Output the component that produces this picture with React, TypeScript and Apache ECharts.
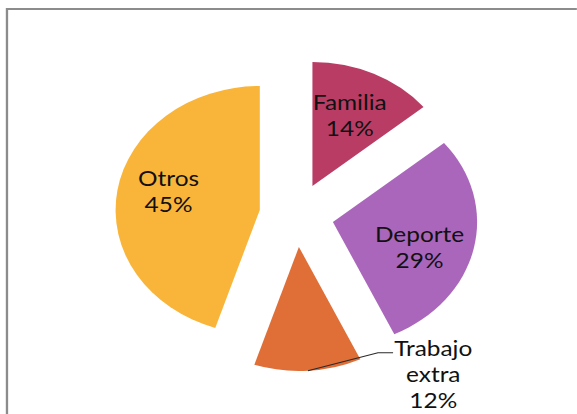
import React, { useEffect, useRef } from 'react';
import * as echarts from 'echarts';

// ---- data ----
const categories = ['Familia', 'Deporte', 'Trabajo extra', 'Otros'];
const values = [14, 29, 12, 45];
const colors = ['#B93C65', '#AA66BB', '#DF6E37', '#F9B53A'];
const outsideLabels = ['Trabajo extra'];

// ---- layout / styling ----
const STRETCH = 1.163; // the reference picture is stretched horizontally
const W = 577;
const H = 414;
const RADIUS = 124;
const labelNudge: Record<string, number[]> = {
  Familia: [-3, 4],
  Deporte: [-6, 7],
  Otros: [3, -6],
};
const leaderRise = 21; // leader line meets the first text line
const leaderTail = 12;
const CLEAR = 'rgba(0,0,0,0)';

export default function App() {
  const ref = useRef<HTMLDivElement>(null);

  useEffect(() => {
    const chart = echarts.init(ref.current!, null, { renderer: 'svg' });
    const textStyle = {
      fontFamily: 'Lato',
      fontSize: 21,
      lineHeight: 26,
      color: '#111111',
    };
    const baseData = categories.map((name, i) => ({
      name,
      value: values[i],
      selected: true,
      itemStyle: { color: colors[i] },
    }));
    const clearData = baseData.map((d) => ({ ...d, itemStyle: { color: CLEAR } }));

    const center = [255, 215];
    const common = {
      type: 'pie',
      center,
      startAngle: 90,
      clockwise: true,
      selectedMode: 'multiple',
      selectedOffset: 32,
      avoidLabelOverlap: false,
      silent: true,
      emphasis: { disabled: true },
    };

    chart.setOption({
      animation: false,
      graphic: [
        {
          type: 'rect',
          silent: true,
          shape: { x: 6, y: 9, width: 800, height: 700 },
          style: { fill: 'none', stroke: '#8c8c8c', lineWidth: 2 },
        },
      ],
      series: [
        // visible slices
        {
          ...common,
          radius: RADIUS,
          itemStyle: { borderWidth: 0 },
          select: { itemStyle: { borderWidth: 0 } },
          label: { show: false },
          labelLine: { show: false },
          data: baseData,
        },
        // outside label with leader line, drawn above the slices
        {
          ...common,
          radius: RADIUS,
          z: 5,
          itemStyle: { color: CLEAR, borderWidth: 0 },
          select: { itemStyle: { color: CLEAR, borderWidth: 0 } },
          label: {
            show: false,
            position: 'outside',
            distanceToLabelLine: 2,
            ...textStyle,
          },
          labelLine: {
            show: false,
            length: 3,
            length2: 72,
            smooth: false,
            lineStyle: { color: '#2a2a2a', width: 1 },
          },
          labelLayout: (params: any) => {
            const pts = params.labelLinePoints;
            if (!pts || pts.length < 3) return {};
            const p0 = pts[0];
            const p2 = pts[pts.length - 1];
            return {
              labelLinePoints: [
                [p0[0], p0[1]],
                [p2[0] - leaderTail, p2[1] - leaderRise],
                [p2[0] + 1, p2[1] - leaderRise],
              ],
            };
          },
          data: clearData.map((d) =>
            outsideLabels.includes(d.name)
              ? {
                  ...d,
                  label: {
                    show: true,
                    formatter: (p: any) =>
                      p.name
                        .split(' ')
                        .map((w: string) => `{c|${w}}`)
                        .join('\n') + `\n{c|${p.percent}%}`,
                    rich: { c: { ...textStyle, align: 'center' } },
                  },
                  labelLine: { show: true },
                }
              : d
          ),
        },
        // inside labels
        {
          ...common,
          radius: 159,
          z: 6,
          itemStyle: { color: CLEAR, borderWidth: 0 },
          select: { itemStyle: { color: CLEAR, borderWidth: 0 } },
          label: {
            show: true,
            position: 'inside',
            formatter: '{b}\n{d}%',
            ...textStyle,
          },
          labelLine: { show: false },
          labelLayout: (params: any) => {
            const n = labelNudge[categories[params.dataIndex]];
            return n ? { dx: n[0], dy: n[1] } : {};
          },
          data: clearData.map((d) =>
            outsideLabels.includes(d.name) ? { ...d, label: { show: false } } : d
          ),
        },
      ],
    });
    return () => chart.dispose();
  }, []);

  return (
    <div
      ref={ref}
      style={{
        position: 'absolute',
        left: 0,
        top: 0,
        width: W / STRETCH,
        height: H,
        transform: `scaleX(${STRETCH})`,
        transformOrigin: '0 0',
      }}
    />
  );
}
